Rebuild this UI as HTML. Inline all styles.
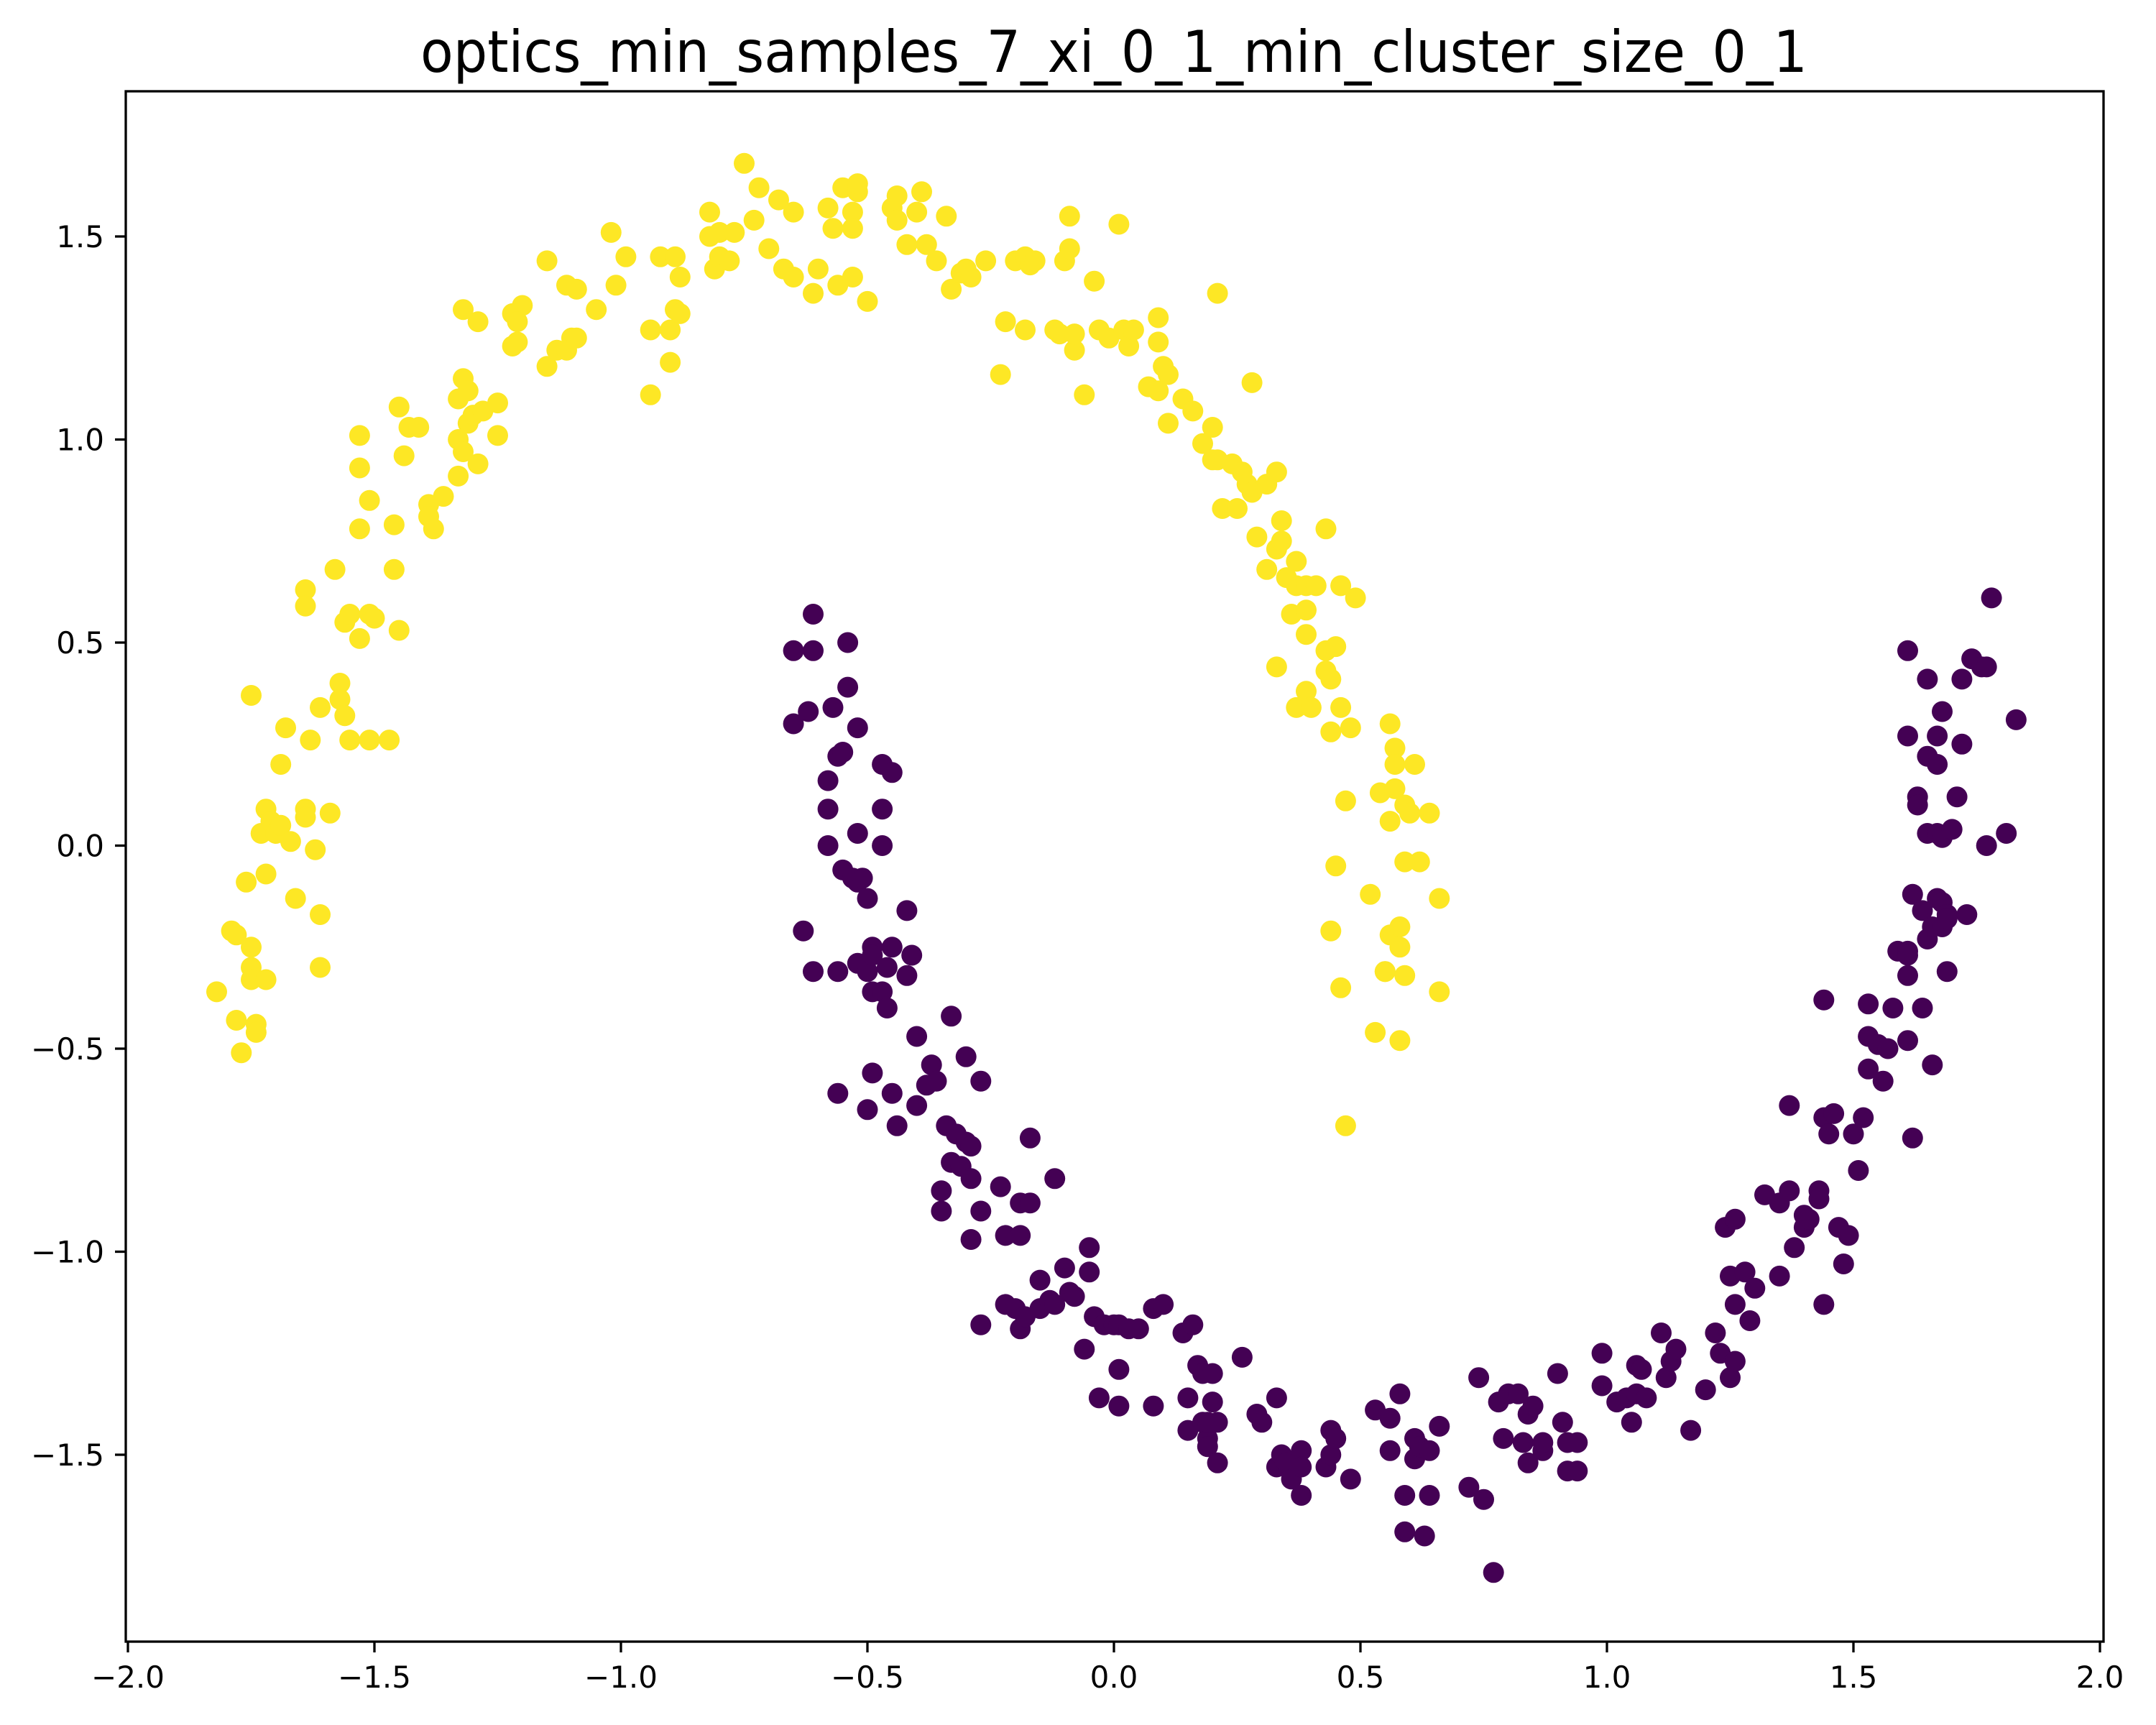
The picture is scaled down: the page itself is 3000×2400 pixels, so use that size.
<!DOCTYPE html>
<html><head><meta charset="utf-8"><style>
html,body{margin:0;padding:0;background:#fff;}
svg{display:block;}
</style></head><body>
<svg id="chart" width="3000" height="2400" viewBox="0 0 3000 2400" xmlns="http://www.w3.org/2000/svg" font-family="'DejaVu Sans','Liberation Sans',sans-serif">
<rect x="0" y="0" width="3000" height="2400" fill="#fff"/>
<text x="1550" y="100" font-size="80" text-anchor="middle" textLength="1930" lengthAdjust="spacingAndGlyphs">optics_min_samples_7_xi_0_1_min_cluster_size_0_1</text>
<g id="points"></g>
<g id="axes"></g>
</svg>
<script>
const xTicks = [-2.0,-1.5,-1.0,-0.5,0.0,0.5,1.0,1.5,2.0];
const xTickLabels = ["\u22122.0","\u22121.5","\u22121.0","\u22120.5","0.0","0.5","1.0","1.5","2.0"];
const yTicks = [-1.5,-1.0,-0.5,0.0,0.5,1.0,1.5];
const yTickLabels = ["\u22121.5","\u22121.0","\u22120.5","0.0","0.5","1.0","1.5"];
const clusterColors = ["#440154","#fde725"];
const yellowX = [-1.82,-1.79,-1.78,-1.78,-1.77,-1.75,-1.75,-1.75,-1.74,-1.74,-1.72,-1.72,-1.76,-1.75,-1.73,-1.72,-1.71,-1.70,-1.69,-1.67,-1.66,-1.69,-1.68,-1.64,-1.64,-1.62,-1.61,-1.61,-1.59,-1.61,-1.63,-1.64,-1.64,-1.58,-1.57,-1.57,-1.56,-1.56,-1.55,-1.55,-1.53,-1.53,-1.53,-1.53,-1.51,-1.51,-1.50,-1.51,-1.47,-1.46,-1.46,-1.45,-1.45,-1.44,-1.43,-1.41,-1.39,-1.39,-1.38,-1.36,-1.33,-1.33,-1.33,-1.32,-1.32,-1.32,-1.31,-1.31,-1.30,-1.29,-1.29,-1.28,-1.25,-1.25,-1.22,-1.20,-1.21,-1.22,-1.21,-1.15,-1.15,-1.13,-1.11,-1.11,-1.10,-1.09,-1.09,-1.05,-1.02,-1.01,-0.99,-0.94,-0.94,-0.92,-0.90,-0.90,-0.89,-0.89,-0.88,-0.88,-0.82,-0.82,-0.81,-0.80,-0.80,-0.78,-0.77,-0.75,-0.73,-0.72,-0.70,-0.68,-0.67,-0.65,-0.65,-0.61,-0.60,-0.58,-0.56,-0.57,-0.55,-0.53,-0.53,-0.52,-0.52,-0.53,-0.50,-0.45,-0.44,-0.44,-0.42,-0.40,-0.39,-0.38,-0.36,-0.34,-0.33,-0.31,-0.30,-0.29,-0.26,-0.23,-0.22,-0.20,-0.18,-0.18,-0.17,-0.16,-0.12,-0.11,-0.10,-0.09,-0.09,-0.08,-0.08,-0.06,-0.04,-0.03,-0.01,0.01,0.02,0.03,0.04,0.07,0.09,0.09,0.09,0.10,0.11,0.11,0.14,0.16,0.18,0.20,0.20,0.21,0.21,0.22,0.24,0.25,0.26,0.27,0.28,0.28,0.29,0.31,0.31,0.33,0.33,0.34,0.34,0.35,0.36,0.33,0.37,0.37,0.39,0.39,0.39,0.37,0.39,0.40,0.41,0.43,0.43,0.43,0.44,0.44,0.45,0.44,0.45,0.46,0.46,0.47,0.46,0.47,0.48,0.49,0.52,0.53,0.54,0.55,0.55,0.56,0.56,0.56,0.57,0.57,0.57,0.58,0.58,0.58,0.59,0.59,0.59,0.60,0.61,0.62,0.64,0.66,0.66];
const yellowY = [-0.36,-0.21,-0.22,-0.43,-0.51,-0.30,-0.25,-0.33,-0.44,-0.46,-0.33,-0.07,-0.09,0.37,0.03,0.09,0.06,0.03,0.05,0.01,-0.13,0.20,0.29,0.09,0.07,-0.01,-0.17,-0.30,0.08,0.34,0.26,0.63,0.59,0.68,0.40,0.36,0.32,0.55,0.57,0.26,0.51,1.01,0.93,0.78,0.85,0.57,0.56,0.26,0.26,0.79,0.68,0.53,1.08,0.96,1.03,1.03,0.84,0.81,0.78,0.86,0.91,1.00,1.10,1.15,0.97,1.32,1.12,1.04,1.06,1.29,0.94,1.07,1.09,1.01,1.31,1.33,1.24,1.23,1.29,1.18,1.44,1.22,1.22,1.38,1.25,1.37,1.25,1.32,1.51,1.38,1.45,1.11,1.27,1.45,1.19,1.27,1.32,1.45,1.40,1.31,1.50,1.56,1.42,1.45,1.51,1.44,1.51,1.68,1.54,1.62,1.47,1.59,1.42,1.40,1.56,1.36,1.42,1.57,1.38,1.52,1.62,1.56,1.52,1.61,1.63,1.40,1.34,1.57,1.60,1.54,1.48,1.56,1.61,1.48,1.44,1.55,1.37,1.41,1.42,1.40,1.44,1.16,1.29,1.44,1.27,1.45,1.43,1.44,1.27,1.26,1.44,1.47,1.55,1.22,1.26,1.11,1.39,1.27,1.25,1.53,1.27,1.23,1.27,1.13,1.12,1.30,1.24,1.18,1.16,1.04,1.10,1.07,0.99,0.95,1.03,1.36,0.95,0.83,0.94,0.83,0.92,0.89,1.14,0.87,0.76,0.89,0.68,0.73,0.92,0.80,0.75,0.66,0.57,0.44,0.70,0.64,0.58,0.64,0.52,0.34,0.38,0.34,0.64,0.78,0.48,0.43,0.41,0.28,-0.05,-0.21,0.49,0.64,0.34,0.11,-0.35,-0.69,0.29,0.61,-0.12,-0.46,0.13,-0.31,-0.31,0.30,0.06,-0.22,0.14,0.24,0.20,-0.48,-0.20,-0.25,0.10,-0.04,-0.32,0.08,0.20,-0.04,0.08,-0.36,-0.13];
const purpleX = [-0.65,-0.65,-0.61,-0.61,-0.62,-0.61,-0.63,-0.57,-0.58,-0.58,-0.58,-0.56,-0.55,-0.56,-0.56,-0.54,-0.54,-0.52,-0.52,-0.55,-0.53,-0.52,-0.51,-0.52,-0.50,-0.49,-0.50,-0.49,-0.49,-0.50,-0.49,-0.47,-0.47,-0.47,-0.47,-0.46,-0.46,-0.45,-0.45,-0.45,-0.44,-0.42,-0.42,-0.41,-0.40,-0.40,-0.38,-0.37,-0.36,-0.35,-0.35,-0.34,-0.33,-0.33,-0.32,-0.31,-0.30,-0.30,-0.29,-0.29,-0.29,-0.27,-0.27,-0.27,-0.23,-0.22,-0.22,-0.20,-0.19,-0.19,-0.19,-0.18,-0.17,-0.17,-0.15,-0.15,-0.13,-0.12,-0.12,-0.10,-0.09,-0.08,-0.06,-0.05,-0.05,-0.04,-0.03,-0.02,0.00,0.01,0.01,0.01,0.03,0.05,0.08,0.08,0.10,0.14,0.15,0.16,0.15,0.17,0.18,0.18,0.19,0.19,0.19,0.20,0.20,0.21,0.21,0.26,0.29,0.30,0.33,0.33,0.34,0.35,0.36,0.38,0.38,0.38,0.43,0.44,0.44,0.45,0.48,0.53,0.56,0.56,0.58,0.59,0.59,0.61,0.61,0.62,0.63,0.64,0.64,0.66,0.72,0.74,0.75,0.77,0.78,0.79,0.80,0.82,0.83,0.84,0.84,0.85,0.87,0.87,0.90,0.91,0.92,0.92,0.94,0.94,0.99,0.99,1.02,1.04,1.05,1.06,1.06,1.07,1.08,1.11,1.12,1.13,1.14,1.17,1.20,1.22,1.23,1.24,1.25,1.25,1.26,1.26,1.26,1.28,1.29,1.30,1.32,1.35,1.35,1.37,1.37,1.38,1.40,1.40,1.41,1.43,1.43,1.44,1.44,1.44,1.45,1.46,1.47,1.49,1.48,1.50,1.51,1.52,1.53,1.53,1.53,1.55,1.56,1.57,1.58,1.59,1.61,1.61,1.61,1.61,1.61,1.61,1.62,1.62,1.63,1.63,1.64,1.65,1.65,1.64,1.65,1.65,1.66,1.66,1.67,1.67,1.67,1.67,1.68,1.68,1.68,1.68,1.69,1.69,1.69,1.70,1.71,1.72,1.72,1.73,1.74,1.76,1.77,1.77,1.78,1.81,1.83];
const purpleY = [0.48,0.30,0.57,0.48,0.33,-0.31,-0.21,0.34,0.16,0.09,0.00,0.22,0.23,-0.31,-0.61,0.50,0.39,0.03,0.29,-0.06,-0.08,-0.09,-0.08,-0.29,-0.13,-0.25,-0.31,-0.36,-0.56,-0.65,-0.27,0.20,0.09,0.00,-0.36,-0.40,-0.30,0.18,-0.61,-0.25,-0.69,-0.32,-0.16,-0.27,-0.47,-0.64,-0.59,-0.54,-0.58,-0.85,-0.90,-0.69,-0.78,-0.42,-0.71,-0.79,-0.73,-0.52,-0.97,-0.74,-0.82,-0.90,-0.58,-1.18,-0.84,-0.96,-1.13,-1.14,-0.88,-0.96,-1.19,-1.16,-0.88,-0.72,-1.14,-1.07,-1.12,-0.82,-1.13,-1.04,-1.10,-1.11,-1.24,-0.99,-1.05,-1.16,-1.36,-1.18,-1.18,-1.18,-1.29,-1.38,-1.19,-1.19,-1.38,-1.14,-1.13,-1.20,-1.36,-1.18,-1.44,-1.28,-1.42,-1.30,-1.46,-1.42,-1.48,-1.30,-1.37,-1.52,-1.42,-1.26,-1.40,-1.42,-1.36,-1.53,-1.50,-1.52,-1.56,-1.49,-1.60,-1.53,-1.53,-1.44,-1.50,-1.46,-1.56,-1.39,-1.49,-1.41,-1.35,-1.69,-1.60,-1.51,-1.46,-1.48,-1.70,-1.60,-1.49,-1.43,-1.58,-1.31,-1.61,-1.79,-1.37,-1.46,-1.35,-1.35,-1.47,-1.52,-1.40,-1.38,-1.49,-1.47,-1.30,-1.42,-1.54,-1.47,-1.54,-1.47,-1.25,-1.33,-1.37,-1.36,-1.42,-1.35,-1.28,-1.29,-1.36,-1.20,-1.31,-1.27,-1.24,-1.44,-1.34,-1.20,-1.25,-0.94,-1.31,-1.06,-0.92,-1.27,-1.13,-1.05,-1.17,-1.09,-0.86,-0.88,-1.06,-0.85,-0.64,-0.99,-0.94,-0.91,-0.92,-0.85,-0.87,-0.38,-0.67,-1.13,-0.71,-0.66,-0.94,-0.96,-1.03,-0.71,-0.80,-0.67,-0.39,-0.47,-0.55,-0.49,-0.58,-0.50,-0.40,-0.26,0.48,0.27,-0.26,-0.27,-0.32,-0.48,-0.72,-0.12,0.12,0.10,-0.16,0.22,0.03,-0.40,0.41,-0.23,-0.54,-0.20,-0.13,0.27,0.20,0.03,0.02,0.33,-0.20,-0.14,-0.31,-0.17,-0.18,0.04,0.12,0.41,0.25,-0.17,0.46,0.44,0.44,0.00,0.61,0.03,0.31];

const NS = "http://www.w3.org/2000/svg";
const L = 175, R = 2927, T = 127, B = 2284;
function xs(v){ return 1550 + v * 686; }
function ys(v){ return 1176.5 - v * 565; }

const pg = document.getElementById('points');
function drawSeries(xa, ya, color, name){
  for (let i = 0; i < xa.length; i++){
    const c = document.createElementNS(NS, 'circle');
    c.setAttribute('cx', xs(xa[i]).toFixed(1));
    c.setAttribute('cy', ys(ya[i]).toFixed(1));
    c.setAttribute('r', 14.5);
    c.setAttribute('fill', color);
    
    
    pg.appendChild(c);
  }
}
drawSeries(purpleX, purpleY, clusterColors[0], 'point-cluster-0');
drawSeries(yellowX, yellowY, clusterColors[1], 'point-cluster-1');

const ag = document.getElementById('axes');
const frame = document.createElementNS(NS, 'rect');
frame.setAttribute('x', L); frame.setAttribute('y', T);
frame.setAttribute('width', R - L); frame.setAttribute('height', B - T);
frame.setAttribute('fill', 'none'); frame.setAttribute('stroke', '#000'); frame.setAttribute('stroke-width', 3.3);


ag.appendChild(frame);

xTicks.forEach((v, i) => {
  const x = xs(v);
  const t = document.createElementNS(NS, 'line');
  t.setAttribute('x1', x); t.setAttribute('x2', x);
  t.setAttribute('y1', B); t.setAttribute('y2', B + 15);
  t.setAttribute('stroke', '#000'); t.setAttribute('stroke-width', 3.3);
  
  
  ag.appendChild(t);
  const tx = document.createElementNS(NS, 'text');
  tx.setAttribute('x', x); tx.setAttribute('y', B + 64);
  tx.setAttribute('font-size', 42); tx.setAttribute('text-anchor', 'middle');
  tx.textContent = xTickLabels[i];
  
  
  ag.appendChild(tx);
});
yTicks.forEach((v, i) => {
  const y = ys(v);
  const t = document.createElementNS(NS, 'line');
  t.setAttribute('x1', L - 15); t.setAttribute('x2', L);
  t.setAttribute('y1', y); t.setAttribute('y2', y);
  t.setAttribute('stroke', '#000'); t.setAttribute('stroke-width', 3.3);
  
  
  ag.appendChild(t);
  const tx = document.createElementNS(NS, 'text');
  tx.setAttribute('x', L - 30); tx.setAttribute('y', y + 15);
  tx.setAttribute('font-size', 42); tx.setAttribute('text-anchor', 'end');
  tx.textContent = yTickLabels[i];
  
  
  ag.appendChild(tx);
});
</script>
</body></html>
